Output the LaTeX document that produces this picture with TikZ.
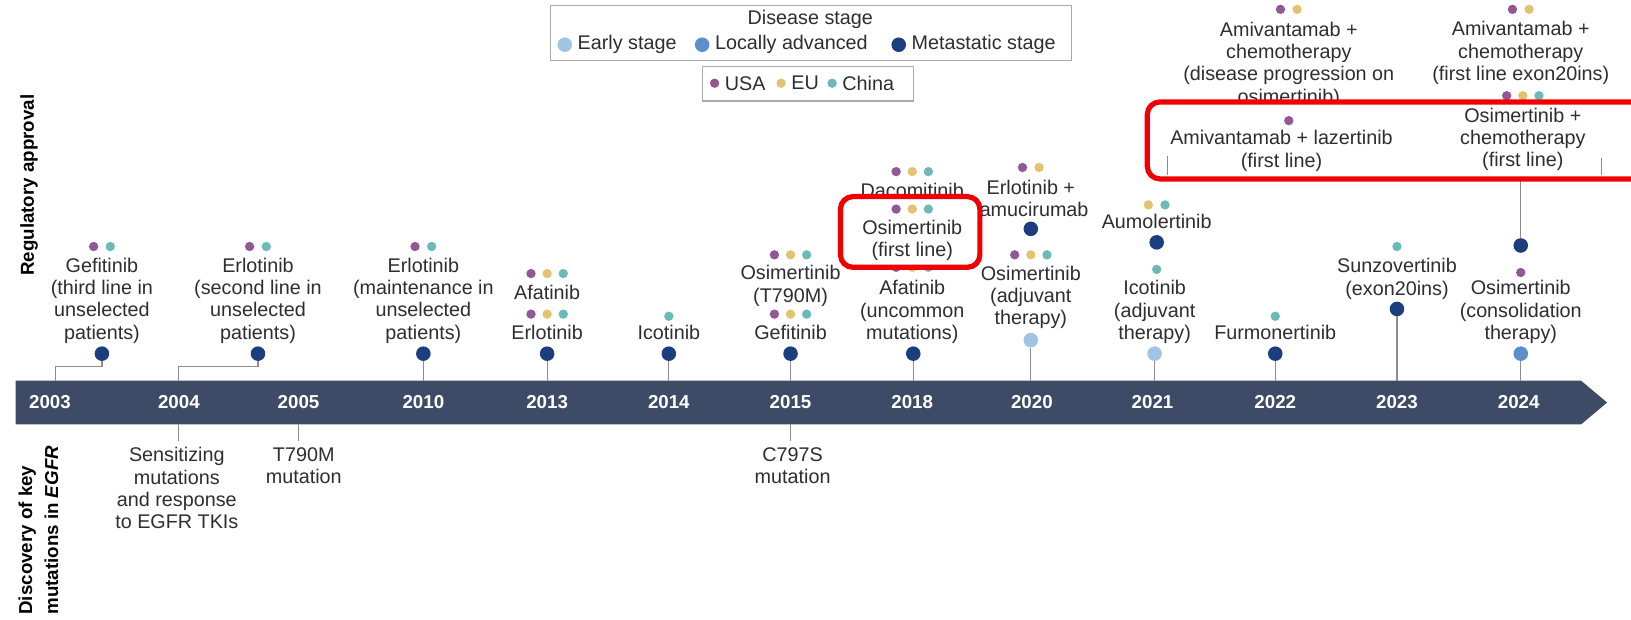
\documentclass[tikz,border=0pt]{standalone}
\usepackage{fontspec}
\setmainfont{Liberation Sans}
\usepackage{tikz}
\usetikzlibrary{positioning, calc}
\definecolor{bandcolor}{RGB}{61, 75, 102}
\definecolor{inkcolor}{RGB}{45, 45, 50}
\definecolor{stemcolor}{RGB}{140, 140, 145}
\definecolor{earlycolor}{RGB}{160, 196, 228}
\definecolor{localcolor}{RGB}{92, 142, 204}
\definecolor{metacolor}{RGB}{28, 62, 126}
\definecolor{usacolor}{RGB}{146, 88, 150}
\definecolor{eucolor}{RGB}{226, 196, 112}
\definecolor{chinacolor}{RGB}{108, 186, 184}
\definecolor{framecolor}{RGB}{170, 170, 170}
\definecolor{redbox}{RGB}{240, 0, 0}
\newcommand{\labelfont}{\fontsize{19}{21.5}\selectfont}

\begin{document}
\begin{tikzpicture}[x=1pt, y=-1pt,
    drug/.style={align=center, inner sep=0pt, text=inkcolor, font=\labelfont},
    cdot/.style={circle, inner sep=0pt, minimum size=9pt},
    sdot/.style={circle, inner sep=0pt, minimum size=14pt},
    stem/.style={draw=stemcolor, line width=1.1pt},
    year/.style={text=white, inner sep=0pt, font=\bfseries\fontsize{18}{20}\selectfont},
    sidelabel/.style={rotate=90, inner sep=0pt, text=black, font=\bfseries\fontsize{18}{25}\selectfont},
    legframe/.style={draw=framecolor, line width=1.2pt},
    redframe/.style={draw=redbox, line width=5pt, rounded corners=12pt, fill=white}]
    \useasboundingbox (0,0) rectangle (1568,596);
    \clip (0,0) rectangle (1568,596);

    % Side titles
    \node[sidelabel] (regtitle) at (28,178) {Regulatory approval};
    \node[sidelabel, anchor=west, align=left] (distitle) at (37,591) {Discovery of key\\mutations in \textit{EGFR}};

    % Legend: disease stage
    \draw[legframe] (529,5) rectangle (1030,58);
    \node[drug] (lgtitle) at (779,19) {Disease stage};
    \node[sdot, fill=earlycolor] (lgearly) at (543,43) {};
    \node[drug, right=5pt of lgearly] (lgearlytxt) {Early stage};
    \node[sdot, fill=localcolor] (lglocal) at (675,43) {};
    \node[drug, right=5pt of lglocal] (lglocaltxt) {Locally advanced};
    \node[sdot, fill=metacolor] (lgmeta) at (864,43) {};
    \node[drug, right=5pt of lgmeta] (lgmetatxt) {Metastatic stage};

    % Legend: region
    \draw[legframe] (675,64) rectangle (878,97);
    \node[cdot, fill=usacolor] (lgusa) at (687,80) {};
    \node[drug, right=5pt of lgusa] (lgusatxt) {USA};
    \node[cdot, fill=eucolor] (lgeu) at (751,80) {};
    \node[drug, right=5pt of lgeu] (lgeutxt) {EU};
    \node[cdot, fill=chinacolor] (lgchina) at (800,80) {};
    \node[drug, right=5pt of lgchina] (lgchinatxt) {China};

    % Timeline band
    \fill[bandcolor] (15,366) -- (1520,366) -- (1545,387) -- (1520,408) -- (15,408) -- cycle;
    \coordinate (btop) at (0,366);
    \coordinate (bbot) at (0,408);
    \foreach \yr/\x in {2003/48, 2004/172, 2005/287, 2010/407, 2013/526, 2014/643, 2015/760, 2018/877, 2020/992, 2021/1108, 2022/1226, 2023/1343, 2024/1460}
        \node[year] (yr\yr) at (\x,387) {\yr};

    % 2003
    \foreach \c [count=\i] in {usacolor, chinacolor}
        \node[cdot, fill=\c] (gef03f\i) at ({98+16*(\i-1.5)},237) {};
    \node[drug] (gef03) at (98,289) {Gefitinib\\(third line in\\unselected\\patients)};
    \node[sdot, fill=metacolor] (gef03dot) at (98,340) {};
    \coordinate (gef03elbow) at (53,352);
    \draw[stem] (gef03dot) |- (gef03elbow) -- (gef03elbow |- btop);

    % 2004
    \foreach \c [count=\i] in {usacolor, chinacolor}
        \node[cdot, fill=\c] (erl04f\i) at ({248+16*(\i-1.5)},237) {};
    \node[drug] (erl04) at (248,289) {Erlotinib\\(second line in\\unselected\\patients)};
    \node[sdot, fill=metacolor] (erl04dot) at (248,340) {};
    \coordinate (erl04elbow) at (172,352);
    \draw[stem] (erl04dot) |- (erl04elbow) -- (erl04elbow |- btop);

    % 2010
    \foreach \c [count=\i] in {usacolor, chinacolor}
        \node[cdot, fill=\c] (erl10f\i) at ({407+16*(\i-1.5)},237) {};
    \node[drug] (erl10) at (407,289) {Erlotinib\\(maintenance in\\unselected\\patients)};
    \node[sdot, fill=metacolor] (erl10dot) at (407,340) {};
    \draw[stem] (erl10dot) -- (erl10dot |- btop);

    % 2013
    \foreach \c [count=\i] in {usacolor, eucolor, chinacolor}
        \node[cdot, fill=\c] (afa13f\i) at ({526+15.5*(\i-2)},263) {};
    \node[drug] (afa13) at (526,281) {Afatinib};
    \foreach \c [count=\i] in {usacolor, eucolor, chinacolor}
        \node[cdot, fill=\c] (erl13f\i) at ({526+15.5*(\i-2)},302) {};
    \node[drug] (erl13) at (526,320) {Erlotinib};
    \node[sdot, fill=metacolor] (erl13dot) at (526,340) {};
    \draw[stem] (erl13dot) -- (erl13dot |- btop);

    % 2014
    \node[cdot, fill=chinacolor] (ico14f1) at (643,304) {};
    \node[drug] (ico14) at (643,320) {Icotinib};
    \node[sdot, fill=metacolor] (ico14dot) at (643,340) {};
    \draw[stem] (ico14dot) -- (ico14dot |- btop);

    % 2015
    \foreach \c [count=\i] in {usacolor, eucolor, chinacolor}
        \node[cdot, fill=\c] (osi15f\i) at ({760+15.5*(\i-2)},245) {};
    \node[drug] (osi15) at (760,275) {Osimertinib\\(T790M)};
    \foreach \c [count=\i] in {usacolor, eucolor, chinacolor}
        \node[cdot, fill=\c] (gef15f\i) at ({760+15.5*(\i-2)},302) {};
    \node[drug] (gef15) at (760,320) {Gefitinib};
    \node[sdot, fill=metacolor] (gef15dot) at (760,340) {};
    \draw[stem] (gef15dot) -- (gef15dot |- btop);

    % 2018
    \foreach \c [count=\i] in {usacolor, eucolor, chinacolor}
        \node[cdot, fill=\c] (dac18f\i) at ({877+15.5*(\i-2)},165) {};
    \node[drug] (dac18) at (877,183) {Dacomitinib};
    \foreach \c [count=\i] in {usacolor, eucolor, chinacolor}
        \node[cdot, fill=\c] (afa18f\i) at ({877+15.5*(\i-2)},257) {};
    \node[drug] (afa18) at (877,300) {Afatinib\\(uncommon\\mutations)};
    \node[sdot, fill=metacolor] (afa18dot) at (878,340) {};
    \draw[stem] (afa18dot) -- (afa18dot |- btop);

    % 2020
    \foreach \c [count=\i] in {usacolor, eucolor}
        \node[cdot, fill=\c] (ram20f\i) at ({991+16*(\i-1.5)},161) {};
    \node[drug] (ram20) at (991,191) {Erlotinib +\\ramucirumab};
    \node[sdot, fill=metacolor] (ram20dot) at (991,220) {};
    \foreach \c [count=\i] in {usacolor, eucolor, chinacolor}
        \node[cdot, fill=\c] (osi20f\i) at ({991+15.5*(\i-2)},245) {};
    \node[drug] (osi20) at (991,286) {Osimertinib\\(adjuvant\\therapy)};
    \node[sdot, fill=earlycolor] (osi20dot) at (991,327) {};
    \draw[stem] (osi20dot) -- (osi20dot |- btop);

    % 2021
    \foreach \c [count=\i] in {eucolor, chinacolor}
        \node[cdot, fill=\c] (aum21f\i) at ({1112+16*(\i-1.5)},197) {};
    \node[drug] (aum21) at (1112,213) {Aumolertinib};
    \node[sdot, fill=metacolor] (aum21dot) at (1112,233) {};
    \node[cdot, fill=chinacolor] (ico21f1) at (1112,259) {};
    \node[drug] (ico21) at (1110,300) {Icotinib\\(adjuvant\\therapy)};
    \node[sdot, fill=earlycolor] (ico21dot) at (1110,340) {};
    \draw[stem] (ico21dot) -- (ico21dot |- btop);

    % 2022
    \node[cdot, fill=chinacolor] (fur22f1) at (1226,304) {};
    \node[drug] (fur22) at (1226,320) {Furmonertinib};
    \node[sdot, fill=metacolor] (fur22dot) at (1226,340) {};
    \draw[stem] (fur22dot) -- (fur22dot |- btop);

    % 2023
    \node[cdot, fill=chinacolor] (sun23f1) at (1343,237) {};
    \node[drug] (sun23) at (1343,268) {Sunzovertinib\\(exon20ins)};
    \node[sdot, fill=metacolor] (sun23dot) at (1343,297) {};
    \draw[stem] (sun23dot) -- (sun23dot |- btop);

    % 2024
    \node[cdot, fill=usacolor] (osi24f1) at (1462,262) {};
    \node[drug] (osi24) at (1462,300) {Osimertinib\\(consolidation\\therapy)};
    \node[sdot, fill=localcolor] (osi24dot) at (1462,340) {};
    \draw[stem] (osi24dot) -- (osi24dot |- btop);
    \node[sdot, fill=metacolor] (chem24dot) at (1462,236) {};
    \coordinate (chem24foot) at (1462,165);
    \draw[stem] (chem24dot) -- (chem24foot);
    \foreach \c [count=\i] in {usacolor, eucolor}
        \node[cdot, fill=\c] (ami24f\i) at ({1462+16*(\i-1.5)},9) {};
    \node[drug] (ami24) at (1462,51) {Amivantamab +\\chemotherapy\\(first line exon20ins)};
    \foreach \c [count=\i] in {usacolor, eucolor, chinacolor}
        \node[cdot, fill=\c] (chem24f\i) at ({1464+15.5*(\i-2)},92) {};
    \foreach \c [count=\i] in {usacolor, eucolor}
        \node[cdot, fill=\c] (amiprog24f\i) at ({1239+16*(\i-1.5)},9) {};
    \node[drug] (amiprog24) at (1239,62) {Amivantamab +\\chemotherapy\\(disease progression on\\osimertinib)};

    % Discovery of key mutations
    \node[drug, anchor=north] (sens04) at (170,430) {Sensitizing\\mutations\\and response\\to EGFR TKIs};
    \draw[stem, shorten >=6pt] (yr2004 |- bbot) -- (yr2004 |- sens04.north);
    \node[drug, anchor=north] (t790m05) at (292,430) {T790M\\mutation};
    \draw[stem, shorten >=6pt] (yr2005 |- bbot) -- (yr2005 |- t790m05.north);
    \node[drug, anchor=north] (c797s15) at (762,430) {C797S\\mutation};
    \draw[stem, shorten >=6pt] (yr2015 |- bbot) -- (yr2015 |- c797s15.north);

    % Highlight: osimertinib first line
    \draw[redframe] (808,189) rectangle (942,257);
    \foreach \c [count=\i] in {usacolor, eucolor, chinacolor}
        \node[cdot, fill=\c] (osi18f\i) at ({877+15.5*(\i-2)},201) {};
    \node[drug] (osi18) at (877,231) {Osimertinib\\(first line)};

    % Highlight: first-line combinations
    \draw[redframe] (1103,98) rectangle (1610,172);
    \coordinate (tickl) at (1122,150);
    \coordinate (tickr) at (1540,152);
    \draw[stem] (tickl) -- ++(0,18);
    \draw[stem] (tickr) -- ++(0,16);
    \node[cdot, fill=usacolor] (laz24f1) at (1239,116) {};
    \node[drug] (laz24) at (1232,145) {Amivantamab + lazertinib\\(first line)};
    \node[drug] (chem24) at (1464,134) {Osimertinib +\\chemotherapy\\(first line)};
\end{tikzpicture}
\end{document}
